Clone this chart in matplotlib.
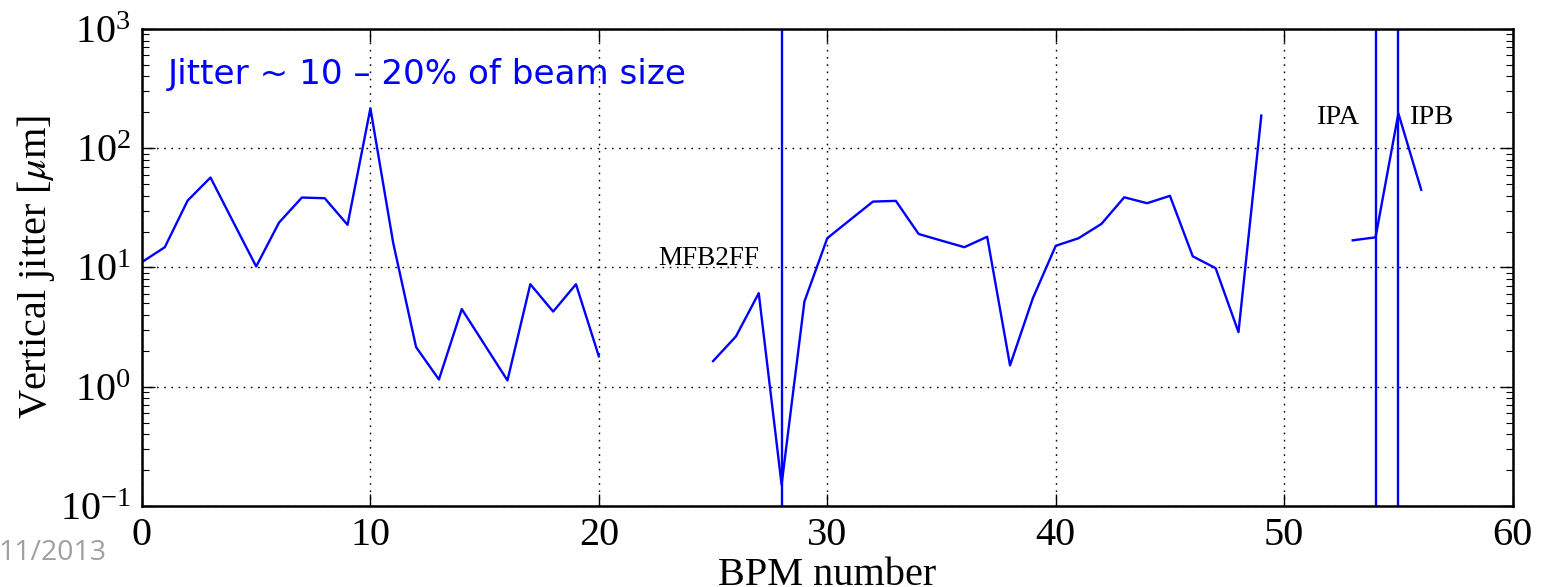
import numpy as np
import matplotlib
matplotlib.use("Agg")
import matplotlib.pyplot as plt
from matplotlib.ticker import LogLocator

plt.rcParams['font.family'] = ['Liberation Serif', 'DejaVu Serif']
plt.rcParams['mathtext.fontset'] = 'stix'

bpm = list(range(0, 57))
jitter = [11.1, 14.8, 36.4, 56.8, 24.0, 10.2, 23.8, 38.6, 38.1, 22.8,
          216, 16.0, 2.15, 1.15, 4.48, 2.25, 1.13, 7.24, 4.27, 7.24,
          1.80, np.nan, np.nan, np.nan, np.nan, 1.64, 2.64, 6.09, 0.151, 5.19,
          17.6, 25.1, 35.7, 36.2, 19.1, 16.8, 14.8, 18.1, 1.51, 5.53,
          15.2, 17.6, 23.2, 38.8, 34.6, 39.9, 12.4, 9.87, 2.87, 188,
          np.nan, np.nan, np.nan, 16.9, 17.9, 196, 44.8]
marker_bpms = [28, 54, 55]
labels = ["MFB2FF", "IPA", "IPB"]
label_pos = [(27.0, 12.0), (53.3, 180), (55.45, 180)]
label_ha = ["right", "right", "left"]
label_size = [19.5, 20.5, 20.5]
x_ticks = [0, 10, 20, 30, 40, 50, 60]

fig = plt.figure(figsize=(15.43, 5.87), dpi=100)
ax = fig.add_axes([0.092, 0.138, 0.8883, 0.8126])

ax.plot(bpm, jitter, color='#0000ff', lw=1.7)
for b in marker_bpms:
    ax.axvline(b, color='#0000ff', lw=1.7)

ax.set_yscale('log')
ax.set_xlim(0, 60)
ax.set_ylim(0.1, 1000)
ax.set_xticks(x_ticks)
ax.yaxis.set_major_locator(LogLocator(base=10, numticks=10))
ax.yaxis.set_minor_locator(LogLocator(base=10, subs=np.arange(2, 10), numticks=20))

ax.grid(True, which='major', color='black', linestyle=(0, (1.2, 4)), lw=1.0)
ax.tick_params(which='both', direction='in', top=True, right=True, labelsize=29,
               pad=8)
ax.tick_params(which='major', length=9, width=1.0)
ax.tick_params(which='minor', length=5, width=0.8)
ax.tick_params(axis='x', which='minor', bottom=False, top=False)
for s in ax.spines.values():
    s.set_linewidth(1.8)

ax.set_xlabel('BPM number', fontsize=29, labelpad=2)
ax.set_ylabel(r'Vertical jitter [$\mu$m]', fontsize=29, labelpad=2)

for t, (lx, ly), ha, fs in zip(labels, label_pos, label_ha, label_size):
    ax.text(lx, ly, t, fontsize=fs, ha=ha, va='center', color='black')

ax.text(0.019, 0.905, 'Jitter ~ 10 \u2013 20% of beam size', transform=ax.transAxes,
        fontsize=24.6, color='#0000ff', family='DejaVu Sans', ha='left', va='center')

fig.text(106 / 1543, 1 - 553 / 587, '11/2013', fontsize=20.5, color='#a0a0a0',
         family='Open Sans', ha='right', va='center')

fig.savefig('out.png', dpi=100)
